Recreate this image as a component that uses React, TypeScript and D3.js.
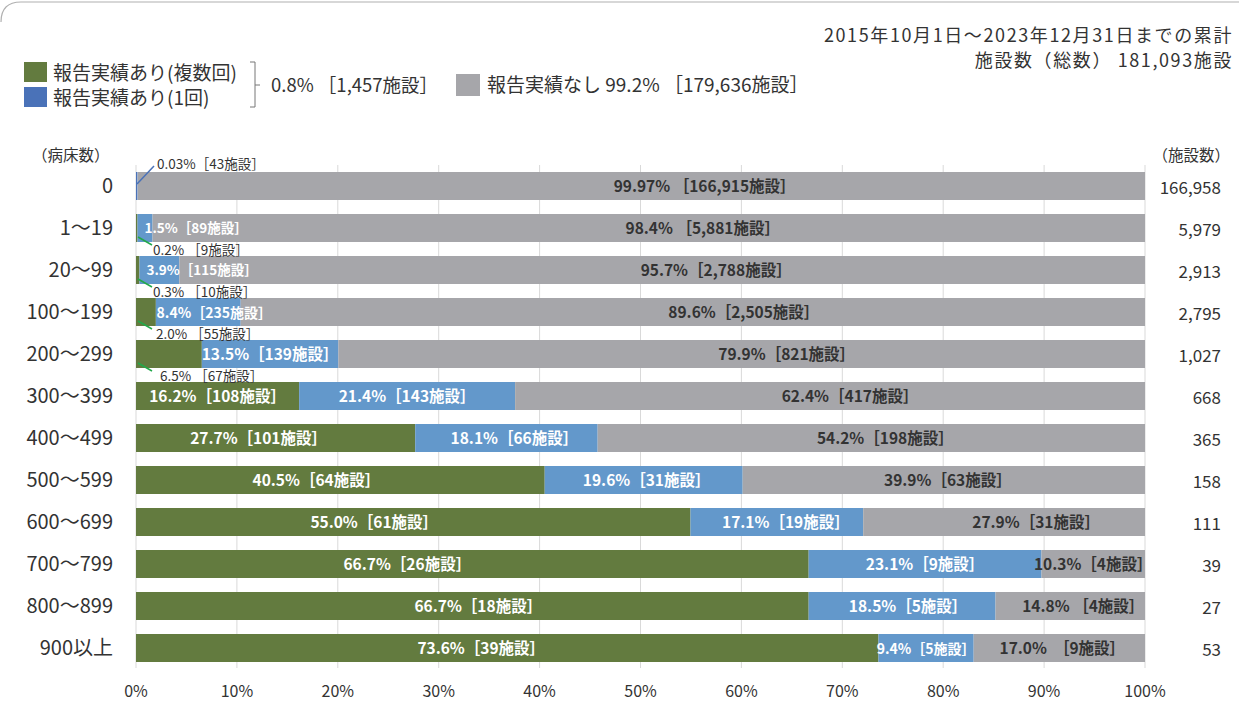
import React from "react";
import * as d3 from "d3";

// ---- data ----
const categories = ["0", "1～19", "20～99", "100～199", "200～299", "300～399", "400～499", "500～599", "600～699", "700～799", "800～899", "900以上"];
const multiPct = [0, 0.2, 0.3, 2.0, 6.5, 16.2, 27.7, 40.5, 55.0, 66.7, 66.7, 73.6];
const multiCount = [0, 9, 10, 55, 67, 108, 101, 64, 61, 26, 18, 39];
const oncePct = [0.03, 1.5, 3.9, 8.4, 13.5, 21.4, 18.1, 19.6, 17.1, 23.1, 18.5, 9.4];
const onceCount = [43, 89, 115, 235, 139, 143, 66, 31, 19, 9, 5, 5];
const nonePct = [99.97, 98.4, 95.7, 89.6, 79.9, 62.4, 54.2, 39.9, 27.9, 10.3, 14.8, 17.0];
const noneCount = [166915, 5881, 2788, 2505, 821, 417, 198, 63, 31, 4, 4, 9];
const totals = [166958, 5979, 2913, 2795, 1027, 668, 365, 158, 111, 39, 27, 53];
const xTicks = [0, 10, 20, 30, 40, 50, 60, 70, 80, 90, 100];

const legendMulti = "報告実績あり(複数回)";
const legendOnce = "報告実績あり(1回)";
const legendYesSummary = "0.8% ［1,457施設］";
const legendNone = "報告実績なし 99.2% ［179,636施設］";
const noteLine1 = "2015年10月1日～2023年12月31日までの累計";
const noteLine2 = "施設数（総数） 181,093施設";

// ---- layout / style ----
const W = 1239, H = 708;
const C_GREEN = "#637b3f", C_BLUE = "#6398cb", C_GRAY = "#a6a6aa", C_LEG_BLUE = "#4a72b8";
const C_TEXT = "#333333", C_GRID = "#d9d9d9", C_LEADER = "#22a84a";
const FONT = "'Noto Sans CJK JP', 'Noto Sans', sans-serif";
// label nudges (px) to mimic manually placed labels
const greenDx = [0, 0, 0, 0, 0, 0, -17, -24, -39, -65, 6, -26];
const blueDx = [0, 0, 0, 16, 0, 0, 8, 3, 9, 0, 6, 0];
const grayDx = [64, 54, 54, 51, 45, 20, 14, 4, 32, 0, 13, 3];
const graySep = [" ", " ", "", "", "", "", "", "", "", "", " ", "  "];

const fmtPct = (d: number) =>
  Math.abs(d * 10 - Math.round(d * 10)) < 1e-6 ? d.toFixed(1) : d.toFixed(2);
const fmtN = d3.format(",");

export default function App() {
  const x = d3.scaleLinear().domain([0, 100]).range([136, 1145]);
  const y = d3.scaleBand<string>().domain(categories).range([165, 669]).paddingInner(1 / 3).paddingOuter(1 / 6);
  const bw = y.bandwidth();

  const rows = categories.map((c, i) => {
    const t = multiCount[i] + onceCount[i] + noneCount[i];
    const g = (multiCount[i] / t) * 100;
    const b = (onceCount[i] / t) * 100;
    return { c, i, g0: 0, g1: g, b0: g, b1: g + b, r0: g + b, r1: 100 };
  });

  return (
    <svg width={W} height={H} style={{ display: "block", position: "absolute", left: 0, top: 0 }} fontFamily={FONT}>
      <rect x={0} y={0} width={W} height={H} fill="#fff" />
      {/* frame */}
      <path d={`M1,22 Q1,2 21,2 L${W},2`} fill="none" stroke="#b0b0b0" strokeWidth={1.2} />

      {/* top notes */}
      <text x={1233} y={42} textAnchor="end" fontSize={18} letterSpacing={1.6} fill={C_TEXT}>{noteLine1}</text>
      <text x={1233} y={67} textAnchor="end" fontSize={18} letterSpacing={1.6} fill={C_TEXT}>{noteLine2}</text>

      {/* legend */}
      <rect x={24} y={62} width={23} height={20} fill={C_GREEN} />
      <rect x={24} y={87} width={23} height={20} fill={C_LEG_BLUE} />
      <text x={53} y={80} fontSize={19} fill={C_TEXT}>{legendMulti}</text>
      <text x={53} y={105} fontSize={19} fill={C_TEXT}>{legendOnce}</text>
      <path d="M250,62 L255,62 L255,107 L250,107 M255,85 L260,85" fill="none" stroke="#777" strokeWidth={1} />
      <text x={271} y={92} fontSize={18.5} fill={C_TEXT}>{legendYesSummary}</text>
      <rect x={456} y={74} width={24} height={22} fill={C_GRAY} />
      <text x={487} y={92} fontSize={19} fill={C_TEXT}>{legendNone}</text>

      {/* axis headers */}
      <text x={32} y={161} fontSize={15.5} fill={C_TEXT}>（病床数）</text>
      <text x={1230} y={161} textAnchor="end" fontSize={15.5} fill={C_TEXT}>（施設数）</text>

      {/* gridlines */}
      {xTicks.map((t) => (
        <line key={t} x1={x(t)} x2={x(t)} y1={165} y2={668} stroke={C_GRID} strokeWidth={1} />
      ))}

      {/* bars */}
      {rows.map((r) => {
        const y0 = y(r.c)!;
        return (
          <g key={r.c}>
            {r.g1 > 0 && <rect x={x(r.g0)} y={y0} width={x(r.g1) - x(r.g0)} height={bw} fill={C_GREEN} />}
            <rect x={x(r.b0)} y={y0} width={Math.max(1.5, x(r.b1) - x(r.b0))} height={bw} fill={r.i === 0 ? C_LEG_BLUE : C_BLUE} />
            <rect x={x(r.r0) + (r.i === 0 ? 1.5 : 0)} y={y0} width={x(r.r1) - x(r.r0) - (r.i === 0 ? 1.5 : 0)} height={bw} fill={C_GRAY} />
          </g>
        );
      })}

      {/* data labels */}
      {rows.map((r) => {
        const i = r.i;
        const y0 = y(r.c)!;
        const cy = y0 + bw / 2 + 5.5;
        const els: React.ReactNode[] = [];
        // gray labels
        els.push(
          <text key="n" x={(x(r.r0) + x(r.r1)) / 2 + grayDx[i]} y={cy} textAnchor="middle" fontSize={15.5} fontWeight={700} fill={C_TEXT} style={{ whiteSpace: "pre" }}>
            {`${fmtPct(nonePct[i])}%${graySep[i]}［${fmtN(noneCount[i])}施設］`}
          </text>
        );
        // blue labels
        if (i === 0) {
          els.push(<line key="bl" x1={x(0) + 1} y1={y0 + 12} x2={x(0) + 18} y2={y0 - 6} stroke={C_LEG_BLUE} strokeWidth={1.5} />);
          els.push(<text key="b" x={x(0) + 21} y={y0 - 3} fontSize={13.5} fill={C_TEXT}>{`${fmtPct(oncePct[i])}%［${fmtN(onceCount[i])}施設］`}</text>);
        } else if (i <= 2) {
          els.push(<text key="b" x={x(r.b0) + 7} y={cy - 0.5} fontSize={13.5} fontWeight={700} fill="#fff">{`${fmtPct(oncePct[i])}%［${fmtN(onceCount[i])}施設］`}</text>);
        } else {
          els.push(
            <text key="b" x={(x(r.b0) + x(r.b1)) / 2 + blueDx[i]} y={cy} textAnchor="middle" fontSize={i <= 3 ? 14 : i === 11 ? 14 : 15.5} fontWeight={700} fill="#fff">
              {`${fmtPct(oncePct[i])}%［${fmtN(onceCount[i])}施設］`}
            </text>
          );
        }
        // green labels
        if (i >= 1 && i <= 4) {
          const yb = y0 + bw;
          els.push(<line key="gl" x1={x(0) + 2} y1={yb - 5} x2={x(0) + 16} y2={yb + 3} stroke={C_LEADER} strokeWidth={1.5} />);
          els.push(<text key="g" x={x(0) + 17 + (i >= 3 ? 3 : 0) + (i === 4 ? 4 : 0)} y={yb + 13} fontSize={13.5} fill={C_TEXT}>{`${fmtPct(multiPct[i])}% ［${fmtN(multiCount[i])}施設］`}</text>);
        } else if (i >= 5) {
          els.push(
            <text key="g" x={(x(r.g0) + x(r.g1)) / 2 + greenDx[i]} y={cy} textAnchor="middle" fontSize={15.5} fontWeight={700} fill="#fff">
              {`${fmtPct(multiPct[i])}%［${fmtN(multiCount[i])}施設］`}
            </text>
          );
        }
        return <g key={r.c}>{els}</g>;
      })}

      {/* category labels */}
      {categories.map((c) => (
        <text key={c} x={113} y={y(c)! + bw / 2 + 7} textAnchor="end" fontSize={20} fill={C_TEXT}>{c}</text>
      ))}

      {/* totals */}
      {categories.map((c, i) => (
        <text key={c} x={1221} y={y(c)! + bw / 2 + 7.5} textAnchor="end" fontSize={17} fill={C_TEXT}>{fmtN(totals[i])}</text>
      ))}

      {/* x tick labels */}
      {xTicks.map((t) => (
        <text key={t} x={x(t)} y={697} textAnchor="middle" fontSize={16} fill={C_TEXT}>{`${t}%`}</text>
      ))}
    </svg>
  );
}
